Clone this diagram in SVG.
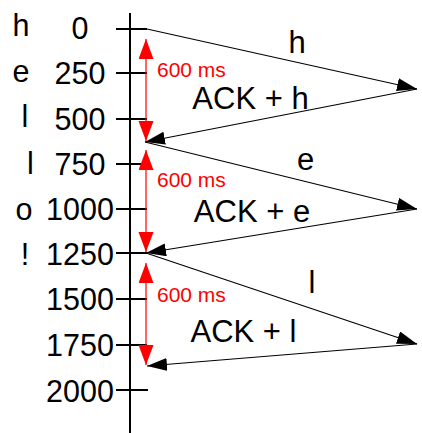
<svg xmlns="http://www.w3.org/2000/svg" width="422" height="433" viewBox="0 0 422 433">
<style>
text{font-family:"Liberation Sans",Arial,sans-serif;fill:#000}
.num{font-size:30.5px;text-anchor:middle}
.let{font-size:30.5px;text-anchor:middle}
.lbl{font-size:31px;text-anchor:middle}
.ms{font-size:21px;fill:#ff0000}
.axis{stroke:#000;stroke-width:2;fill:none}
.msg{stroke:#000;stroke-width:1.2;fill:none;marker-end:url(#ah)}
.timer{stroke:#ff0000;stroke-width:1.2;fill:none;marker-start:url(#rh);marker-end:url(#rh)}
</style>
<defs>
<marker id="ah" markerUnits="userSpaceOnUse" markerWidth="21" markerHeight="14" refX="20" refY="6.5" orient="auto">
<path d="M0,0 L20,6.5 L0,13 Z" fill="#000"/>
</marker>
<marker id="rh" markerUnits="userSpaceOnUse" markerWidth="21" markerHeight="16" refX="20" refY="7.5" orient="auto-start-reverse">
<path d="M0,0 L20,7.5 L0,15 Z" fill="#ff0000"/>
</marker>
</defs>
<rect width="422" height="433" fill="#fff"/>
<g id="axis">
<line class="axis" x1="130" y1="13" x2="130" y2="433"/>
<path class="axis" d="M116,29H147 M116,73H147 M116,119H147 M116,164H147 M116,209H147 M116,253H147 M116,299H147 M116,345H147 M116,390H148"/>
<text class="num" x="80" y="39">0</text>
<text class="num" x="80" y="84">250</text>
<text class="num" x="80" y="130">500</text>
<text class="num" x="80" y="175">750</text>
<text class="num" x="80" y="220">1000</text>
<text class="num" x="80" y="265">1250</text>
<text class="num" x="80" y="310">1500</text>
<text class="num" x="80" y="356">1750</text>
<text class="num" x="80" y="402">2000</text>
</g>
<g id="letters">
<text class="let" x="21" y="36">h</text>
<text class="let" x="21" y="82">e</text>
<text class="let" x="25" y="127">l</text>
<text class="let" x="30.5" y="174">l</text>
<text class="let" x="24" y="220">o</text>
<text class="let" x="25" y="265">!</text>
</g>
<g id="connectors">
<line class="msg" x1="147" y1="29" x2="417" y2="89"/>
<line class="msg" x1="417" y1="89" x2="145" y2="142"/>
<line class="msg" x1="145" y1="142" x2="417" y2="209"/>
<line class="msg" x1="417" y1="209" x2="146" y2="253"/>
<line class="msg" x1="146" y1="253" x2="417" y2="344"/>
<line class="msg" x1="417" y1="344" x2="147" y2="366"/>
</g>
<g id="timers">
<line class="timer" x1="146" y1="39" x2="146" y2="141"/>
<line class="timer" x1="146" y1="150" x2="146" y2="252"/>
<line class="timer" x1="146" y1="263" x2="146" y2="365"/>
<text class="ms" x="157" y="77">600 ms</text>
<text class="ms" x="157" y="187">600 ms</text>
<text class="ms" x="157" y="302">600 ms</text>
</g>
<g id="labels">
<text class="lbl" x="297" y="53">h</text>
<text class="lbl" x="250.5" y="109">ACK + h</text>
<text class="lbl" x="305.5" y="170">e</text>
<text class="lbl" x="252" y="222">ACK + e</text>
<text class="lbl" x="312" y="293">l</text>
<text class="lbl" x="243.5" y="342">ACK + l</text>
</g>
</svg>
